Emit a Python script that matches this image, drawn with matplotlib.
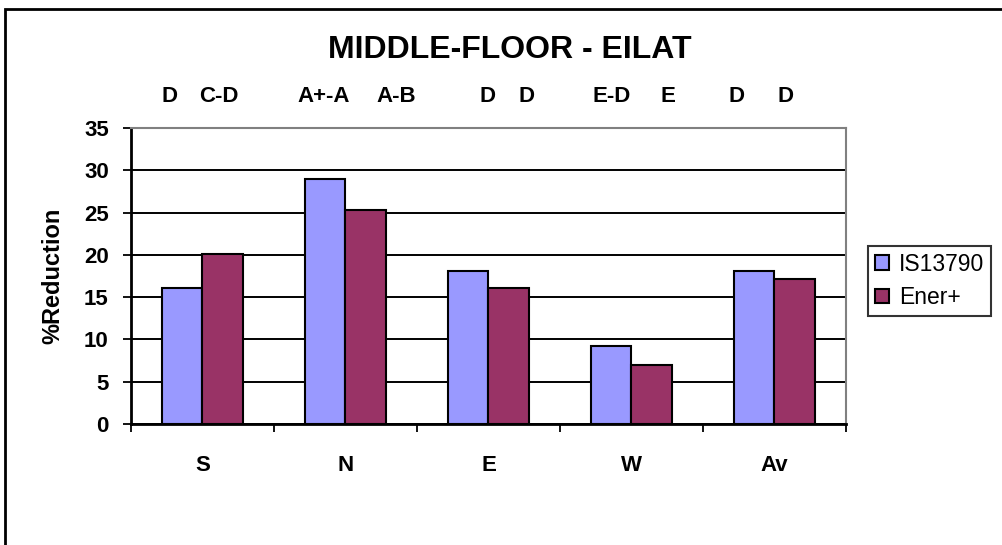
import matplotlib
matplotlib.use("Agg")
import matplotlib.pyplot as plt
import numpy as np
from matplotlib.patches import Rectangle

categories = ["S", "N", "E", "W", "Av"]
is13790 = [16.1, 29.0, 18.1, 9.25, 18.1]
ener_plus = [20.1, 25.3, 16.1, 7.0, 17.2]
series_names = ["IS13790", "Ener+"]
top_labels = ["D", "C-D", "A+-A", "A-B", "D", "D", "E-D", "E", "D", "D"]
yticks = [0, 5, 10, 15, 20, 25, 30, 35]

W, H = 1003, 545
fig = plt.figure(figsize=(W / 100, H / 100), dpi=100)
fig.patch.set_facecolor("white")
plt.rcParams['font.family'] = ['Liberation Sans', 'DejaVu Sans']

L, R, T, B = 131, 846, 128, 424
ax = fig.add_axes([L / W, 1 - B / H, (R - L) / W, (B - T) / H])

x = np.arange(len(categories))
bw = 0.285
ax.bar(x - bw / 2, is13790, bw, color="#9999FF", edgecolor="black", linewidth=1.5,
       label=series_names[0], zorder=3)
ax.bar(x + bw / 2, ener_plus, bw, color="#993366", edgecolor="black", linewidth=1.5,
       label=series_names[1], zorder=3)

ax.set_xlim(-0.5, len(categories) - 0.5)
ax.set_ylim(0, 35)
ax.set_yticks(yticks)
ax.set_yticklabels([str(v) for v in yticks], fontsize=16, fontweight="bold")
ax.yaxis.grid(True, color="black", linewidth=1.4, zorder=0)
ax.set_axisbelow(True)

ax.set_xticks(np.arange(-0.5, len(categories), 1.0))
ax.set_xticklabels([])
ax.set_xticks(x, minor=True)
ax.set_xticklabels(categories, minor=True, fontsize=16, fontweight="bold")
ax.tick_params(axis="x", which="minor", length=0, pad=22)
ax.tick_params(axis="x", which="major", length=6, width=1.3, direction="out")
ax.tick_params(axis="y", length=6, width=1.3, direction="out", pad=10)

for s in ["left", "bottom"]:
    ax.spines[s].set_color("black")
    ax.spines[s].set_linewidth(2)
for s in ["top", "right"]:
    ax.spines[s].set_color("#808080")
    ax.spines[s].set_linewidth(1.5)

ax.set_ylabel("%Reduction", fontsize=17, fontweight="bold", labelpad=14)

fig.text(510 / W, 1 - 50 / H, "MIDDLE-FLOOR - EILAT", fontsize=23, fontweight="bold",
         ha="center", va="center")

label_px = [170, 219, 324, 396, 488, 527, 612, 668, 737, 786]
for lbl, px in zip(top_labels, label_px):
    fig.text(px / W, 1 - 97 / H, lbl, fontsize=16, fontweight="bold",
             ha="center", va="center")

leg = fig.legend(loc="center left", bbox_to_anchor=(868 / W, 1 - 281 / H),
                 fontsize=16.5, frameon=True, fancybox=False, edgecolor="black",
                 handlelength=0.6, handleheight=0.6, handletextpad=0.45,
                 labelspacing=0.45, borderpad=0.3, borderaxespad=0)
leg.get_frame().set_linewidth(1.5)

fig.patches.append(Rectangle((5 / W, -0.1), 1.2, 1 - 9 / H + 0.1, transform=fig.transFigure,
                             fill=False, edgecolor="black", linewidth=2))

fig.savefig("out.png", dpi=100)
